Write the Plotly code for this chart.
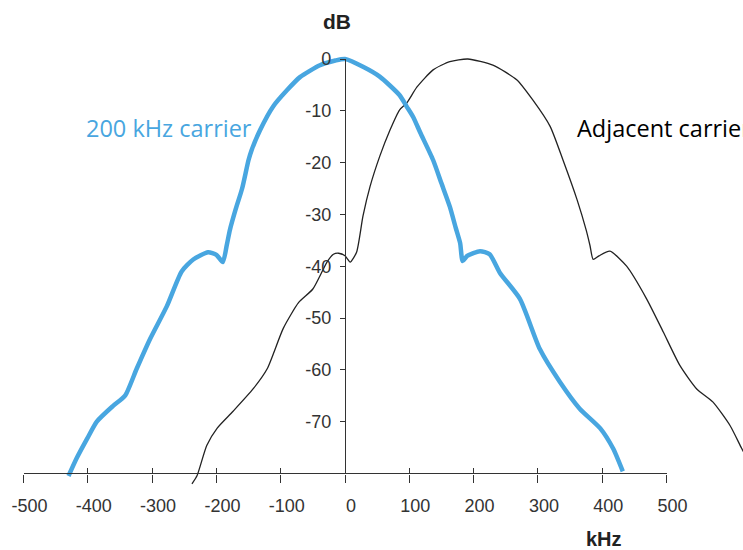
import plotly.graph_objects as go

# ---- data (kHz, dB) ----
carrier_khz = [-430, -417, -401, -386, -361, -342, -324, -303, -277, -254, -236, -213, -200, -190,
               -184, -179, -170, -160, -150, -145, -132, -112, -90, -70, -39, -15, 0,
               28, 54, 85, 96, 106, 117, 137, 150, 163, 172, 179, 183, 190, 210, 225, 241,
               272, 303, 334, 365, 397, 417, 432]
carrier_db = [-80.5, -77, -73.3, -70, -67, -65, -59.8, -54, -47.7, -41, -38.7, -37.3, -37.8, -39.2,
              -36, -33, -29, -25, -19.5, -17.5, -13.7, -9.2, -6, -3.5, -1.2, -0.3, 0,
              -1.5, -3.4, -7.0, -9.2, -11.2, -14.2, -19.5, -24, -28.5, -32.5, -35.5, -39, -38, -37.1, -37.7, -41.3,
              -46.3, -56, -62.3, -67.5, -71.3, -75.2, -79.6]

adjacent_khz = [-238, -230, -215, -199, -174, -143, -121, -96, -72, -50, -28, -18, -10, 0, 8, 18,
                28, 39, 54, 70, 85, 96, 112, 137, 163, 191, 230, 267, 292, 319, 339, 361, 375,
                381, 386, 395, 412, 438, 469, 495, 521, 547, 572, 599, 617, 625]
adjacent_db = [-82, -80.4, -74.6, -71.3, -68, -63.7, -59.8, -52, -47, -44.4, -39.2, -37.7, -37.5, -38, -39.2, -37.3,
               -30.3, -24.6, -18.8, -13.7, -9.8, -8.5, -5.4, -2.1, -0.5, 0, -1.2, -4, -7.9, -13, -19.5, -27.2, -33,
               -36, -38.7, -38, -37.1, -40, -46.3, -52.7, -59.2, -63.7, -66.2, -70.8, -75.2, -77]

x_ticks = [-500, -400, -300, -200, -100, 0, 100, 200, 300, 400, 500]
x_tick_labels = ["-500", "-400", "-300", "-200", "-100", "0", "100", "200", "300", "400", "500"]
y_ticks = [0, -10, -20, -30, -40, -50, -60, -70]
y_tick_labels = ["0", "-10", "-20", "-30", "-40", "-50", "-60", "-70"]

W, H = 743, 550
X0_PX = 345.0          # pixel of 0 kHz
PX_PER_KHZ = 0.643
Y0_PX = 59.0           # pixel of 0 dB
PX_PER_DB = 5.18
AXIS_DB = -80

BLUE = "#48A6E0"
INK = "#222222"
AX = "#333333"

def xpx(k):
    return X0_PX + PX_PER_KHZ * k

def ypx(d):
    return Y0_PX - PX_PER_DB * d

fig = go.Figure()
fig.add_trace(go.Scatter(x=adjacent_khz, y=adjacent_db, mode="lines",
                         line=dict(color=INK, width=1.3, shape="spline", smoothing=0.6),
                         name="Adjacent carrier", showlegend=False, hoverinfo="skip"))
fig.add_trace(go.Scatter(x=carrier_khz, y=carrier_db, mode="lines",
                         line=dict(color=BLUE, width=4.5, shape="spline", smoothing=0.6),
                         name="200 kHz carrier", showlegend=False, hoverinfo="skip"))
# empty traces so the decorative axes get their own subplots
fig.add_trace(go.Scatter(x=[], y=[], xaxis="x2", yaxis="y2", showlegend=False, hoverinfo="skip"))
fig.add_trace(go.Scatter(x=[], y=[], xaxis="x3", yaxis="y2", showlegend=False, hoverinfo="skip"))

tickfont = dict(family="Liberation Sans, Arial, sans-serif", size=18, color=AX)
axis_frac = (H - ypx(AXIS_DB)) / H

fig.update_layout(
    width=W, height=H,
    margin=dict(l=0, r=0, t=0, b=0, autoexpand=False),
    paper_bgcolor="white", plot_bgcolor="rgba(0,0,0,0)",
    showlegend=False,
    xaxis=dict(domain=[0, 1], range=[-X0_PX / PX_PER_KHZ, (W - X0_PX) / PX_PER_KHZ],
               visible=False, fixedrange=True, automargin=False),
    yaxis=dict(domain=[0, 1], range=[-(H - Y0_PX) / PX_PER_DB, Y0_PX / PX_PER_DB],
               visible=False, fixedrange=True, automargin=False),
    xaxis2=dict(domain=[xpx(x_ticks[0]) / W, xpx(x_ticks[-1]) / W],
                range=[x_ticks[0], x_ticks[-1]], anchor="y2", automargin=False,
                showline=True, linecolor=AX, linewidth=1.2,
                showgrid=False, zeroline=False, fixedrange=True,
                tickmode="array", tickvals=x_ticks, ticktext=x_tick_labels,
                ticks="outside", ticklen=8, tickwidth=1.2, tickcolor=AX,
                ticklabelstandoff=8, ticklabelshift=6, tickfont=tickfont),
    xaxis3=dict(overlaying="x2", range=[x_ticks[0], x_ticks[-1]], anchor="y2", automargin=False,
                showline=False, showgrid=False, zeroline=False, fixedrange=True,
                tickmode="array", tickvals=x_ticks, showticklabels=False,
                ticks="inside", ticklen=5, tickwidth=1.2, tickcolor=AX),
    yaxis2=dict(domain=[axis_frac, (H - ypx(0)) / H],
                range=[AXIS_DB, 0], automargin=False,
                anchor="free", position=X0_PX / W,
                showline=True, linecolor=AX, linewidth=1.2,
                showgrid=False, zeroline=False, fixedrange=True,
                tickmode="array", tickvals=y_ticks, ticktext=y_tick_labels,
                ticks="outside", ticklen=5, tickwidth=1.2, tickcolor=AX,
                ticklabelstandoff=5, tickfont=tickfont),
)

def px_ann(text, x, y, **kw):
    fig.add_annotation(text=text, x=x / W, y=(H - y) / H, xref="paper", yref="paper",
                       showarrow=False, yanchor="middle", **kw)

bold = dict(family="Liberation Sans, Arial, sans-serif", color=INK)
px_ann("<b>dB</b>", 337, 21.5, xanchor="center", font=dict(size=21, **bold))
px_ann("<b>kHz</b>", 604, 539, xanchor="center", font=dict(size=20, **bold))
px_ann("200 kHz carrier", 168.5, 128, xanchor="center",
       font=dict(family="Open Sans, Noto Sans, sans-serif", size=23.5, color=BLUE))
px_ann("Adjacent carrier", 575, 128, xanchor="left",
       font=dict(family="Open Sans, Noto Sans, sans-serif", size=23.5, color="black"))

fig.write_html("out.html", config={"displayModeBar": False},
               post_script="document.body.style.margin='0';document.body.style.overflow='hidden';")
